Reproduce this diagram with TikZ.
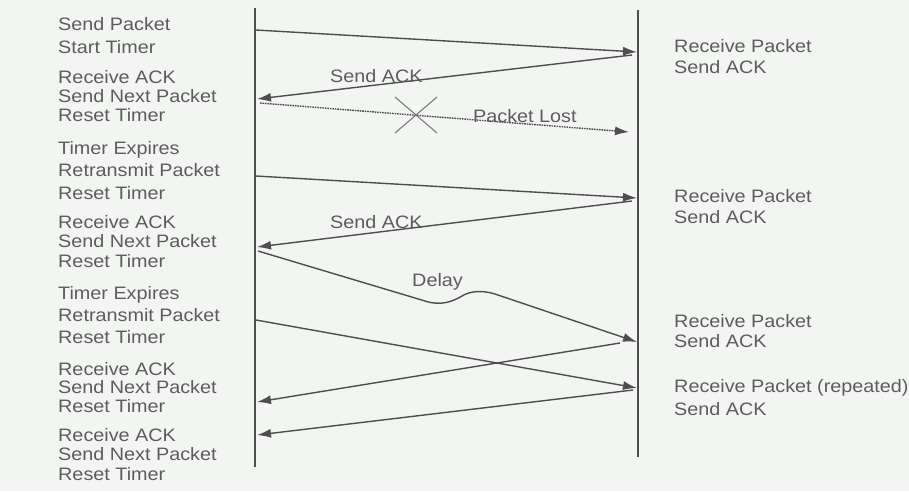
\documentclass[tikz,border=0pt]{standalone}
\usepackage{fontspec}
\setmainfont{Liberation Sans}[FakeStretch=1.1]
\usetikzlibrary{arrows.meta}
\definecolor{paper}{RGB}{243,245,243}
\definecolor{inkgray}{RGB}{78,78,78}
\definecolor{textgray}{RGB}{92,92,92}

\begin{document}
\begin{tikzpicture}[x=1pt, y=-1pt,
  lbl/.style={anchor=base west, inner sep=0pt, text=textgray,
              font=\fontsize{18}{20}\selectfont},
  life/.style={draw=inkgray, line width=1.4pt},
  msg/.style={draw=inkgray, line width=1.4pt,
              -{Latex[length=14pt, width=9pt]}},
  lost/.style={msg, dash pattern=on 1.6pt off 0.9pt},
  cross/.style={draw=inkgray!80, line width=1pt}
]
  % paper and frame
  \fill[paper] (0,0) rectangle (909,491);
  \useasboundingbox (0,0) rectangle (909,491);

  % sender side texts
  \foreach \y/\t [count=\i] in {30/Send Packet, 53/Start Timer,
      83/Receive ACK, 102/Send Next Packet, 121/Reset Timer,
      154/Timer Expires, 176/Retransmit Packet, 199/Reset Timer,
      228/Receive ACK, 247/Send Next Packet, 267/Reset Timer,
      299/Timer Expires, 321/Retransmit Packet, 343/Reset Timer,
      375/Receive ACK, 393/Send Next Packet, 412/Reset Timer,
      441/Receive ACK, 460/Send Next Packet, 480/Reset Timer}
    \node[lbl] (s\i) at (58,\y) {\t};

  % receiver side texts
  \foreach \y/\t [count=\i] in {52/Receive Packet, 73/Send ACK,
      202/Receive Packet, 223/Send ACK,
      327/Receive Packet, 347/Send ACK,
      392/Receive Packet (repeated), 415/Send ACK}
    \node[lbl] (r\i) at (674,\y) {\t};

  % lifelines
  \coordinate (lt) at (255,8);
  \coordinate (lb) at (255,467);
  \coordinate (rt) at (638,10);
  \coordinate (rb) at (638,457);
  \draw[life] (lt) -- (lb);
  \draw[life] (rt) -- (rb);

  % event points
  \coordinate (a1) at (256,30);  \coordinate (b1) at (637,52);
  \coordinate (b2) at (632,55);  \coordinate (a2) at (257,99);
  \coordinate (a3) at (260,103); \coordinate (b3) at (629,132);
  \coordinate (a4) at (256,176); \coordinate (b4) at (637,198);
  \coordinate (b5) at (632,201); \coordinate (a5) at (257,247);
  \coordinate (a6) at (258,251); \coordinate (b6) at (637,342);
  \coordinate (a7) at (256,320); \coordinate (b7) at (637,388);
  \coordinate (b8) at (620,343); \coordinate (a8) at (257,402);
  \coordinate (b9) at (633,390); \coordinate (a9) at (257,435);

  % messages
  \draw[msg] (a1) -- (b1);
  \draw[msg] (b2) -- (a2);
  \draw[lost] (a3) -- (b3);
  \draw[msg] (a4) -- (b4);
  \draw[msg] (b5) -- (a5);
  \draw[msg] (a6) -- (425,301) .. controls (440,306) and (452,302) .. (462,296)
             .. controls (470,291) and (482,290) .. (495,294) -- (b6);
  \draw[msg] (a7) -- (b7);
  \draw[msg] (b8) -- (a8);
  \draw[msg] (b9) -- (a9);

  % lost mark
  \coordinate (x1) at (395,97);  \coordinate (x2) at (437,133);
  \coordinate (x3) at (437,97);  \coordinate (x4) at (395,133);
  \draw[cross] (x1) -- (x2);
  \draw[cross] (x3) -- (x4);

  % message labels
  \node[lbl] (ack1) at (330,82) {Send ACK};
  \node[lbl] (ack2) at (330,228) {Send ACK};
  \node[lbl] (lostlbl) at (473,122) {Packet Lost};
  \node[lbl] (delay) at (412,286) {Delay};
\end{tikzpicture}
\end{document}
